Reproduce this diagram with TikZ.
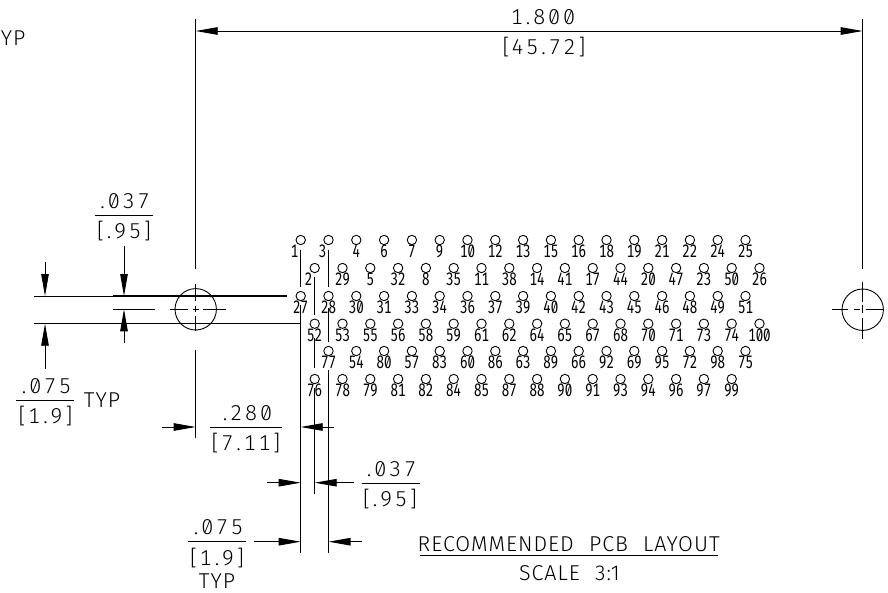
\documentclass[tikz,border=0pt]{standalone}
\usepackage{fontspec}
\usetikzlibrary{arrows.meta}
\newfontfamily\dimfont[Numbers={SlashedZero,Monospaced},LetterSpace=13]{Fira Sans Light}
\newfontfamily\capfont[LetterSpace=4.5,WordSpace=2.2]{Fira Sans Light}
\newfontfamily\padfont[Numbers={SlashedZero,Monospaced},FakeStretch=0.74]{Fira Sans}
\newcommand\dotp{\kern3pt.\kern3pt}
\newcommand\brk{\kern2pt}
\begin{document}
\begin{tikzpicture}[x=1pt,y=-1pt,line width=.9pt,>={Triangle[length=22pt,width=7.5pt]},
    pad/.style={circle,draw,inner sep=0pt,minimum size=9.4pt},
    padnum/.style={anchor=base,inner sep=0pt,font=\padfont\fontsize{18}{18}\selectfont},
    dimtext/.style={anchor=base,inner sep=0pt,font=\dimfont\fontsize{21.5}{21.5}\selectfont},
    captext/.style={anchor=base,inner sep=0pt,font=\capfont\fontsize{21.5}{21.5}\selectfont}]
\useasboundingbox (0,0) rectangle (888,592);
\node[captext,anchor=base west] (typtop) at (.5,45) {YP};
\foreach \yy/\xa/\nums in {240/300.7/{1,3,4,6,7,9,10,12,13,15,16,18,19,21,22,24,25},
    268/314.7/{2,29,5,32,8,35,11,38,14,41,17,44,20,47,23,50,26},
    296/300.7/{27,28,30,31,33,34,36,37,39,40,42,43,45,46,48,49,51},
    323.7/314.7/{52,53,55,56,58,59,61,62,64,65,67,68,70,71,73,74,100},
    351/328.5/{77,54,80,57,83,60,86,63,89,66,92,69,95,72,98,75},
    379/314.7/{76,78,79,81,82,84,85,87,88,90,91,93,94,96,97,99}}{
  \foreach \n [count=\i from 0] in \nums {
    \pgfmathsetmacro\dx{(\n<4)?-6:0}
    \node[pad] (p\n) at ({\xa+27.8*\i},\yy) {};
    \node[padnum] (t\n) at ({\xa+27.8*\i+\dx},\yy+17.5) {\n};
  }
}
\node[circle,draw,inner sep=0pt,minimum size=41.4pt] (holeL) at (195.7,309.3) {};
\node[circle,draw,inner sep=0pt,minimum size=41.4pt] (holeR) at (862.7,309.7) {};
\draw (170,309.3)--(188.4,309.3) (192.7,309.3)--(199,309.3) (203.4,309.3)--(225.7,309.3);
\draw (195.7,284.3)--(195.7,301.3) (195.7,306.3)--(195.7,312.3) (195.7,316.3)--(195.7,330.7);
\draw (832.4,309.7)--(848.4,309.7) (854,309.7)--(860,309.7) (865.7,309.7)--(884,309.7);
\draw (862.7,281.7)--(862.7,301.7) (862.7,304.7)--(862.7,312.7) (862.7,317.7)--(862.7,338.7);
\draw (195.7,19)--(195.7,269) (862.7,19)--(862.7,269);
\draw[<->] (195.7,31)--(862.7,31);
\node[dimtext] (top1) at (543,24) {1\dotp 800};
\node[dimtext] (top2) at (544,54) {[\brk 45\dotp 72]};
\draw (34,296)--(287,296) (34,323.7)--(300.7,323.7);
\draw[line width=1.2pt] (113,296)--(287,296);
\draw (113,309.3)--(155,309.3);
\draw[->] (45,262)--(45,296);
\draw[->] (45,369)--(45,323.7);
\draw[->] (124,246)--(124,296);
\draw[->] (124,343)--(124,309.3);
\node[dimtext] (a1) at (123.5,208) {\dotp 037};
\draw (95,215)--(153,215);
\node[dimtext] (a2) at (124,238) {[\dotp 95]};
\node[dimtext] (b1) at (45,393) {\dotp 075};
\draw (16,400.7)--(74,400.7);
\node[dimtext] (b2) at (45.5,423) {[1\dotp 9]};
\node[captext] (b3) at (102,407.7) {TYP};
\draw (195.7,350)--(195.7,438);
\draw[->] (162,427)--(195.7,427);
\draw[->] (334,427)--(300.7,427);
\node[dimtext] (c1) at (246,420) {\dotp 280};
\draw (210,427)--(282,427);
\node[dimtext] (c2) at (246,450) {[7\dotp 11]};
\draw (300.7,250)--(300.7,287) (300.7,305)--(300.7,552.7);
\draw (314.7,277)--(314.7,315) (314.7,338)--(314.7,368) (314.7,388)--(314.7,494);
\draw (328.5,250)--(328.5,287) (328.5,308)--(328.5,342) (328.5,370)--(328.5,552.7);
\draw[->] (266.7,482.7)--(300.7,482.7);
\draw[->] (354,482.7)--(314.7,482.7);
\node[dimtext] (e1) at (390,476.7) {\dotp 037};
\draw (361.7,483)--(420,483);
\node[dimtext] (e2) at (390,506) {[\dotp 95]};
\draw[->] (254,541.7)--(300.7,541.7);
\draw[->] (362,541.7)--(328.5,541.7);
\node[dimtext] (f1) at (217,534) {\dotp 075};
\draw (188,541.7)--(246,541.7);
\node[dimtext] (f2) at (217,565) {[1\dotp 9]};
\node[captext] (f3) at (217,588) {TYP};
\node[captext] (title) at (568.7,551.7) {RECOMMENDED PCB LAYOUT};
\draw (420,555)--(717.5,555);
\node[captext] (scale) at (569.5,580) {SCALE 3:1};
\end{tikzpicture}
\end{document}
